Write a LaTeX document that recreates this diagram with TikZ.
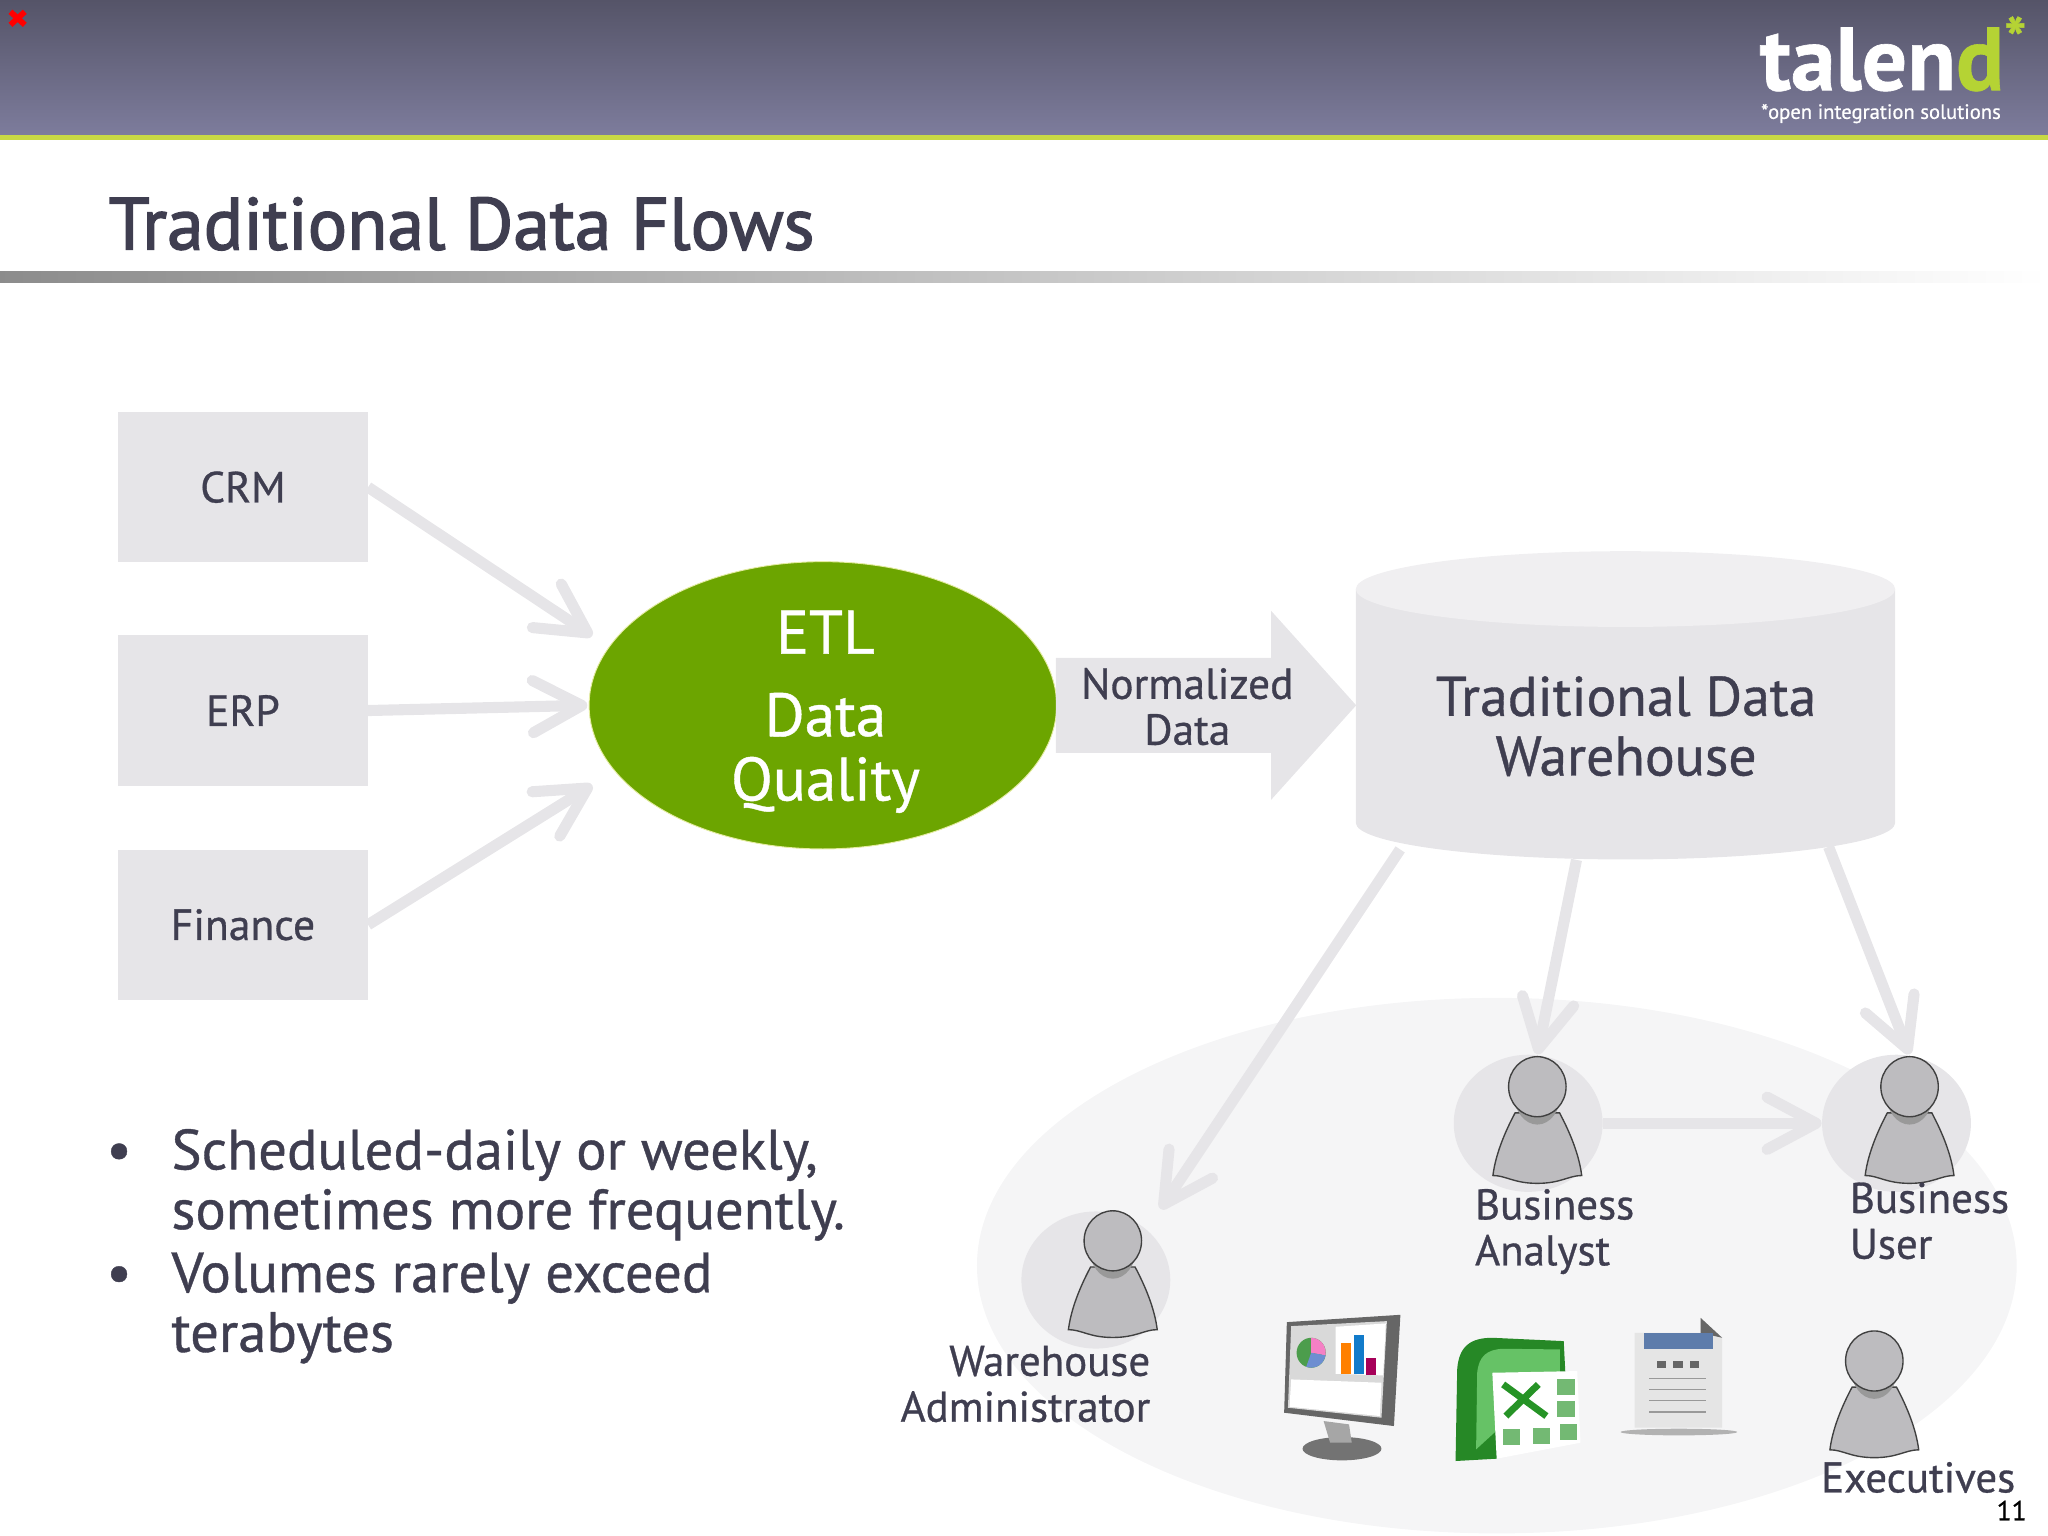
\documentclass[tikz,border=0pt]{standalone}
\usepackage{fontspec}
\usepackage{tikz}
\usetikzlibrary{arrows.meta,shapes.geometric,shapes.arrows}
\setmainfont{PT Sans}[FakeBold=0.7]
\newfontfamily\titlefont{PT Sans}[FakeBold=2]

\definecolor{slate}{HTML}{3F3E50}
\definecolor{panelgrey}{HTML}{E6E5E8}
\definecolor{etlgreen}{HTML}{6CA500}
\definecolor{limebar}{HTML}{C8D944}
\definecolor{logolime}{HTML}{B5D334}
\definecolor{bodygrey}{HTML}{BDBCBF}
\definecolor{headtop}{HTML}{555468}
\definecolor{headbottom}{HTML}{7D7C9C}

\tikzset{
    sourcebox/.style={draw=none, fill=panelgrey, minimum width=3.82cm, minimum height=2.3cm,
        text=slate, font=\fontsize{19}{21}\selectfont},
    flowarrow/.style={draw=panelgrey, line width=0.17cm,
        -{Straight Barb[length=7.5mm,width=8mm,round]}},
    rolehalo/.style={ellipse, fill=panelgrey, minimum width=2.28cm, minimum height=2.1cm, inner sep=0pt},
    rolelabel/.style={align=left, text=slate, inner sep=0pt, font=\fontsize{18.7}{20}\selectfont},
    bulletlabel/.style={align=left, text=slate, inner sep=0pt, anchor=base west,
        font=\fontsize{24.7}{26}\selectfont},
    person/.pic={
        \draw[fill=bodygrey, draw=black!75, line width=0.6pt]
            (-17,20) .. controls (-25,35) and (-32,52) .. (-34,68)
            .. controls (-24,68) and (-18,74) .. (0,74)
            .. controls (18,74) and (24,68) .. (34,68)
            .. controls (32,52) and (25,35) .. (17,20) -- cycle;
        \fill[black!40] (0,5) ellipse (18 and 24);
        \draw[fill=bodygrey, draw=black!75, line width=0.6pt] (0,0) ellipse (22 and 23);
    },
}

\begin{document}
\begin{tikzpicture}[x=0.02cm, y=-0.02cm]
    \useasboundingbox (0,0) rectangle (1568,1176);

    % Header band and title
    \shade[top color=headtop, bottom color=headbottom] (0,0) rectangle (1568,103);
    \fill[limebar] (0,103) rectangle (1568,107);
    \draw[red, line width=2.5pt] (8,9) -- (19,19) (19,9) -- (8,19);
    \node[anchor=base west, inner sep=0pt, text depth=0pt, text=white, font=\bfseries\fontsize{39}{39}\selectfont] (logo) at (1347,69) {talen\textcolor{logolime}{d}};
    \node[anchor=base west, inner sep=0pt, text depth=0pt, text=logolime, font=\bfseries\fontsize{26}{26}\selectfont] (logostar) at (1534,46) {*};
    \node[anchor=base west, inner sep=0pt, text=white, font=\fontsize{9}{10}\selectfont] (tagline) at (1348,91) {*open integration solutions};
    \node[anchor=base west, inner sep=0pt, text=slate, font=\titlefont\fontsize{32.1}{34}\selectfont] (title) at (83,191) {Traditional Data Flows};
    \shade[left color=black!45, right color=white] (0,208) rectangle (1568,216);

    % Define sources
    \node[sourcebox] (crm) at (186,373) {CRM};
    \node[sourcebox] (erp) at (186,544) {ERP};
    \node[sourcebox] (finance) at (186,708) {Finance};

    % Define ETL and warehouse
    \node[ellipse, fill=etlgreen, draw=limebar!50!white, line width=0.4pt, minimum width=7.16cm, minimum height=4.4cm,
        inner sep=0pt] (etl) at (630,540) {};
    \node[align=center, text=white, inner sep=0pt, font=\fontsize{26.7}{28}\selectfont] (etllabel) at (632,545)
        {ETL\\[8pt]Data\\Quality};
    \node[single arrow, fill=panelgrey, minimum width=2.88cm, minimum height=4.6cm, single arrow head extend=0.72cm,
        single arrow tip angle=96, inner xsep=0pt, inner ysep=0.72cm] (normarrow) at (907,540) {};
    \node[align=center, text=slate, inner sep=0pt, font=\fontsize{18.9}{20}\selectfont] (normlabel) at (909,541) {Normalized\\Data};
    \fill[panelgrey] (1038,451) -- (1038,630) arc (180:0:206.5 and 28) -- (1451,451) -- cycle;
    \fill[panelgrey!60!white] (1244.5,451) ellipse (206.5 and 29);
    \node[minimum width=8.26cm, minimum height=4.72cm, inner sep=0pt] (warehouse) at (1245,540) {};
    \node[align=center, text=slate, inner sep=0pt, font=\fontsize{24.3}{26}\selectfont] (warelabel) at (1245,556) {Traditional Data\\Warehouse};

    % Define users
    \fill[panelgrey!40!white] (1146,969) ellipse (398 and 205);
    \node[rolehalo] (admin) at (839,980) {};
    \node[rolehalo] (analyst) at (1170,860) {};
    \node[rolehalo] (user) at (1452,860) {};
    \pic at (852,950) {person};
    \pic at (1177,832) {person};
    \pic at (1462,832) {person};
    \pic at (1435,1042) {person};
    \node[rolelabel, align=right, anchor=north east] (adminlabel) at (881,1030) {Warehouse\\Administrator};
    \node[rolelabel, anchor=north west] (analystlabel) at (1129,910) {Business\\Analyst};
    \node[rolelabel, anchor=north west] (userlabel) at (1416,905) {Business\\User};
    \node[rolelabel, anchor=north west, text depth=0pt] (execlabel) at (1394,1119) {Executives};
    \node[anchor=base east, inner sep=0pt, font=\fontsize{12}{12}\selectfont] (pagenum) at (1552,1164) {11};

    % Draw edges
    \draw[flowarrow] (crm.east) -- ([shift={(-16,-4)}]etl.163);
    \draw[flowarrow] (erp.east) -- ([shift={(-1,0)}]etl.west);
    \draw[flowarrow] (finance.east) -- ([shift={(-16,12)}]etl.197);
    \draw[flowarrow] ([shift={(-173,-8)}]warehouse.south) -- ([shift={(9,-17)}]admin.north east);
    \draw[flowarrow] ([shift={(-38,0)}]warehouse.south) -- ([shift={(7,0)}]analyst.north);
    \draw[flowarrow] ([shift={(155,-10)}]warehouse.south) -- ([shift={(10,0)}]user.north);
    \draw[flowarrow] (analyst.east) -- (user.west);

    % Monitor, sheet and report icons
    \begin{scope}[shift={(919,796)}, xscale=.414, yscale=.255]
        \fill[black!55] (262,1228) ellipse (73 and 35);
        \fill[black!35] (228,1145) -- (275,1155) -- (280,1210) -- (240,1210) -- cycle;
        \fill[black!60] (160,848) -- (370,826) -- (358,1160) -- (155,1120) -- cycle;
        \fill[black!15] (168,860) -- (345,845) -- (335,1135) -- (162,1105) -- cycle;
        \fill[white] (250,862) -- (343,852) -- (338,1008) -- (250,1003) -- cycle;
        \fill[white] (168,1020) -- (335,1030) -- (332,1130) -- (165,1102) -- cycle;
        \fill[green!45!black!70] (205,940) ellipse (27 and 45);
        \fill[magenta!50!white] (205,940) -- (205,895) arc (-90:10:27 and 45) -- cycle;
        \fill[cyan!40!blue!60!white] (205,940) -- (231.6,947.8) arc (10:110:27 and 45) -- cycle;
        \fill[orange] (260,912) rectangle (278,1003);
        \fill[cyan!60!blue] (284,888) rectangle (303,1005);
        \fill[violet!70!red] (307,955) rectangle (325,1007);
        \fill[green!45!black!85] (472,1265) -- (475,990) .. controls (478,920) and (500,895) .. (540,895)
            -- (672,905) -- (675,1000) -- (548,1258) -- cycle;
        \fill[green!60!black!60] (510,1230) -- (512,1000) .. controls (515,950) and (530,930) .. (560,928)
            -- (665,930) -- (665,1000) -- cycle;
        \fill[white] (540,1000) -- (697,995) -- (703,1210) -- (548,1258) -- cycle;
        \foreach \cx/\cy in {560/1170, 615/1165, 665/1155, 660/1085, 660/1020}
            \fill[green!50!black!55] (\cx,\cy) rectangle ++(32,48);
        \draw[green!50!black!85, line width=3pt] (560,1035) -- (640,1130) (625,1035) -- (565,1130);
        \fill[black!30] (885,1178) ellipse (108 and 10);
        \fill[black!10] (803,880) -- (925,880) -- (925,835) -- (965,895) -- (965,1165) -- (803,1165) -- cycle;
        \fill[black!60] (925,835) -- (965,895) -- (925,880) -- cycle;
        \fill[cyan!50!blue!70!black!80] (820,880) rectangle (948,928);
        \foreach \cx in {845,875,905}
            \fill[black!60] (\cx,965) rectangle ++(17,20);
        \foreach \cy in {1017,1050,1083,1117}
            \draw[black!40, line width=0.7pt] (830,\cy) -- (935,\cy);
    \end{scope}

    % Bullet text
    \node[bulletlabel] (bulletone) at (81,895) {•};
    \node[bulletlabel] (bullettwo) at (81,989) {•};
    \node[bulletlabel] (itemone) at (131,941) {Scheduled-daily or weekly,\\sometimes more frequently.};
    \node[bulletlabel] (itemtwo) at (131,1035) {Volumes rarely exceed\\terabytes};
\end{tikzpicture}
\end{document}
